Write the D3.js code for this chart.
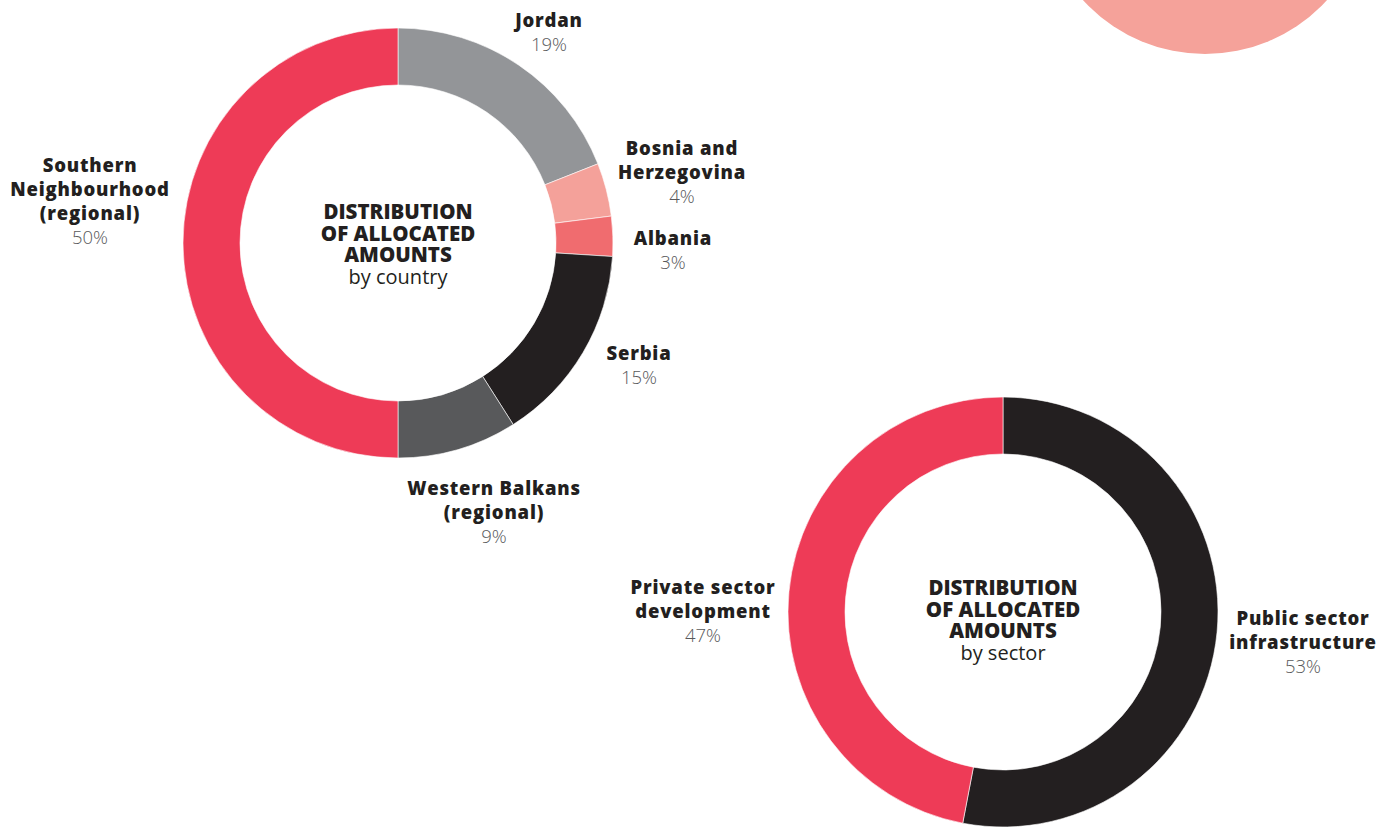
<!DOCTYPE html>
<html lang="en">
  <head>
    <meta charset="UTF-8" />
    <title>Distribution of allocated amounts</title>
    <style>
      html, body { margin: 0; padding: 0; background: #fff; }
      svg { display: block; }
      .lbl { font-family: "Open Sans", sans-serif; font-weight: 800; fill: #231f20; }
      .pct { font-family: "Open Sans", sans-serif; font-weight: 300; fill: #58595b; }
      .ctr { font-family: "Open Sans", sans-serif; font-weight: 800; fill: #231f20; }
      .sub { font-family: "Open Sans", sans-serif; font-weight: 400; fill: #231f20; }
    </style>
  </head>
  <body>

    <script src="https://cdnjs.cloudflare.com/ajax/libs/d3/7.8.5/d3.min.js"></script>

    <script>
    // data
    var countries = ["Jordan", "Bosnia and Herzegovina", "Albania", "Serbia", "Western Balkans (regional)", "Southern Neighbourhood (regional)"];
    var countryShares = [19, 4, 3, 15, 9, 50];
    var countryLines = [["Jordan"], ["Bosnia and", "Herzegovina"], ["Albania"], ["Serbia"], ["Western Balkans", "(regional)"], ["Southern", "Neighbourhood", "(regional)"]];

    var sectors = ["Public sector infrastructure", "Private sector development"];
    var sectorShares = [53, 47];
    var sectorLines = [["Public sector", "infrastructure"], ["Private sector", "development"]];

    var countryColors = ["#939598", "#f4a19a", "#f06c6f", "#231f20", "#58595b", "#ee3b57"];
    var sectorColors = ["#231f20", "#ee3b57"];

    //size of the page
    var w = 1384;
    var h = 827;
    var outerR = 215;
    var innerR = 158;

    var svg = d3.select("body")
                .append("svg")
                .attr("width", w)
                .attr("height", h);

    // decorative circle cut by the top edge
    svg.append("circle")
       .attr("cx", 1205)
       .attr("cy", -111)
       .attr("r", 165)
       .attr("fill", "#f5a29a");

    var pie = d3.pie().sort(null).value(function(d) { return d; });
    var arc = d3.arc().innerRadius(innerR).outerRadius(outerR);

    function donut(cx, cy, shares, colors, names, lines, labelPos, title, sub, titleTop) {
      var g = svg.append("g").attr("transform", "translate(" + cx + "," + cy + ")");

      g.selectAll("path")
       .data(pie(shares))
       .enter()
       .append("path")
       .attr("d", arc)
       .attr("fill", function(d, i) { return colors[i]; })
       .attr("stroke", "#fff")
       .attr("stroke-width", 0.6)
       .append("title")
       .text(function(d, i) { return names[i] + ": " + d.data + "%"; });

      // centre title
      var t = svg.append("text")
                 .attr("text-anchor", "middle")
                 .attr("x", cx);
      title.forEach(function(line, k) {
        t.append("tspan")
         .attr("class", "ctr")
         .attr("x", cx)
         .attr("y", cy + titleTop + k * 21.5)
         .attr("font-size", 20.5)
         .text(line);
      });
      t.append("tspan")
       .attr("class", "sub")
       .attr("x", cx)
       .attr("y", cy + titleTop + title.length * 21.5 + 0.5)
       .attr("font-size", 20)
       .text(sub);

      // labels around the ring
      shares.forEach(function(v, i) {
        var p = labelPos[i];
        var lt = svg.append("text").attr("text-anchor", "middle");
        lines[i].forEach(function(line, k) {
          lt.append("tspan")
            .attr("class", "lbl")
            .attr("x", p[0])
            .attr("y", p[1] + k * 24)
            .attr("font-size", 18.5)
            .attr("letter-spacing", 0.8)
            .text(line);
        });
        lt.append("tspan")
          .attr("class", "pct")
          .attr("x", p[0])
          .attr("y", p[1] + lines[i].length * 24)
          .attr("font-size", 18.5)
          .text(v + "%");
      });
    }

    // baseline of first label line for each slice
    var countryLabelPos = [[549, 27], [682, 155], [673, 245], [639, 360], [494, 495], [90, 172]];
    var sectorLabelPos = [[1303, 625], [703, 594]];

    donut(398, 243, countryShares, countryColors, countries, countryLines, countryLabelPos,
          ["DISTRIBUTION", "OF ALLOCATED", "AMOUNTS"], "by country", -24);

    donut(1003, 612, sectorShares, sectorColors, sectors, sectorLines, sectorLabelPos,
          ["DISTRIBUTION", "OF ALLOCATED", "AMOUNTS"], "by sector", -17);

    </script>
  </body>
</html>
